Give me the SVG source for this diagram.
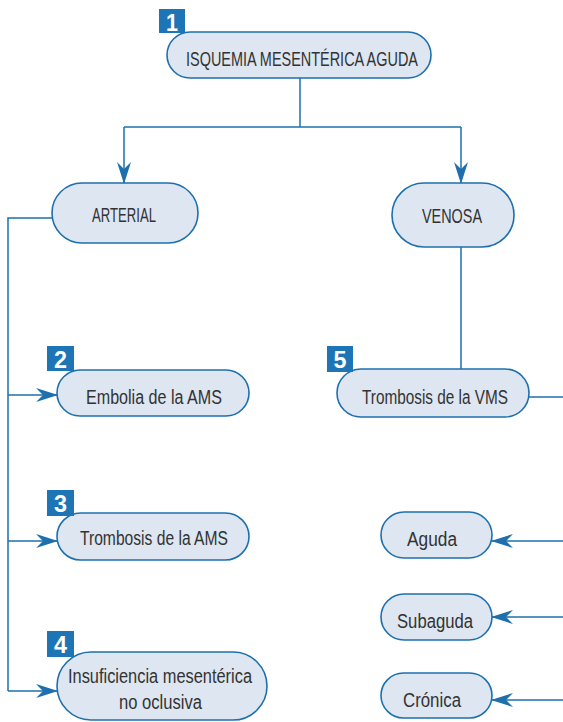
<svg xmlns="http://www.w3.org/2000/svg" width="563" height="722" viewBox="0 0 563 722">
<defs>
<style>
.node rect.box{fill:#dde6f1;stroke:#1d70ad;stroke-width:1.6}
.node text{font-family:"Liberation Sans",Arial,sans-serif;font-size:20px;fill:#333;text-anchor:middle}
.badge rect{fill:#1d75b6}
.badge text{font-family:"Liberation Sans",Arial,sans-serif;font-size:24px;font-weight:bold;fill:#fff;text-anchor:middle}
.conn{fill:none;stroke:#1d70ad;stroke-width:1.5}
</style>
<marker id="arr" viewBox="0 0 22 14" refX="21" refY="7" markerWidth="22" markerHeight="14" markerUnits="userSpaceOnUse" orient="auto">
<path d="M0,0 L22,7 L0,14 L7,7 Z" fill="#1d70ad"/>
</marker>
</defs>
<g id="connectors">
<path class="conn" d="M300,78 V127"/>
<path class="conn" d="M124,127 H461"/>
<path class="conn" d="M124,127 V183" marker-end="url(#arr)"/>
<path class="conn" d="M461,127 V183" marker-end="url(#arr)"/>
<path class="conn" d="M52,218 H8 V691"/>
<path class="conn" d="M8,395 H57" marker-end="url(#arr)"/>
<path class="conn" d="M8,541 H57" marker-end="url(#arr)"/>
<path class="conn" d="M8,691 H57" marker-end="url(#arr)"/>
<path class="conn" d="M461,247 V369"/>
<path class="conn" d="M529,397 H563"/>
<path class="conn" d="M563,541 H492" marker-end="url(#arr)"/>
<path class="conn" d="M563,617 H492" marker-end="url(#arr)"/>
<path class="conn" d="M563,700 H492" marker-end="url(#arr)"/>
</g>
<g id="n1" class="node">
<rect class="box" x="167" y="32" width="264" height="46" rx="23"/>
<text x="302" y="66" textLength="232" lengthAdjust="spacingAndGlyphs">ISQUEMIA MESENTÉRICA AGUDA</text>
<g class="badge"><rect x="159" y="9" width="26" height="24"/><text x="172" y="31" textLength="12" lengthAdjust="spacingAndGlyphs">1</text></g>
</g>
<g id="arterial" class="node">
<rect class="box" x="52" y="183" width="146" height="60" rx="30"/>
<text x="124" y="222" textLength="64" lengthAdjust="spacingAndGlyphs">ARTERIAL</text>
</g>
<g id="venosa" class="node">
<rect class="box" x="392" y="183" width="122" height="64" rx="32"/>
<text x="452" y="223" textLength="60" lengthAdjust="spacingAndGlyphs">VENOSA</text>
</g>
<g id="n2" class="node">
<rect class="box" x="57" y="370" width="192" height="46" rx="23"/>
<text x="154" y="404" textLength="136" lengthAdjust="spacingAndGlyphs">Embolia de la AMS</text>
<g class="badge"><rect x="47" y="346" width="27" height="25"/><text x="60.5" y="368" textLength="13" lengthAdjust="spacingAndGlyphs">2</text></g>
</g>
<g id="n3" class="node">
<rect class="box" x="57" y="513" width="192" height="47" rx="23.5"/>
<text x="154" y="545" textLength="148" lengthAdjust="spacingAndGlyphs">Trombosis de la AMS</text>
<g class="badge"><rect x="47" y="490" width="27" height="26"/><text x="60.5" y="512" textLength="13" lengthAdjust="spacingAndGlyphs">3</text></g>
</g>
<g id="n4" class="node">
<rect class="box" x="57" y="652" width="210" height="68" rx="34"/>
<text x="160" y="683" textLength="184" lengthAdjust="spacingAndGlyphs">Insuficiencia mesentérica</text>
<text x="160.5" y="709" textLength="83" lengthAdjust="spacingAndGlyphs">no oclusiva</text>
<g class="badge"><rect x="47" y="631" width="27" height="26"/><text x="60.5" y="653" textLength="13" lengthAdjust="spacingAndGlyphs">4</text></g>
</g>
<g id="n5" class="node">
<rect class="box" x="337" y="369" width="192" height="48" rx="24"/>
<text x="435" y="404" textLength="146" lengthAdjust="spacingAndGlyphs">Trombosis de la VMS</text>
<g class="badge"><rect x="327" y="346" width="26" height="26"/><text x="340" y="368" textLength="13" lengthAdjust="spacingAndGlyphs">5</text></g>
</g>
<g id="aguda" class="node">
<rect class="box" x="381" y="512" width="111" height="46" rx="23"/>
<text x="432" y="546" textLength="50" lengthAdjust="spacingAndGlyphs">Aguda</text>
</g>
<g id="subaguda" class="node">
<rect class="box" x="381" y="594" width="111" height="46" rx="23"/>
<text x="435" y="628" textLength="76" lengthAdjust="spacingAndGlyphs">Subaguda</text>
</g>
<g id="cronica" class="node">
<rect class="box" x="381" y="673" width="111" height="45" rx="22.5"/>
<text x="432" y="707" textLength="58" lengthAdjust="spacingAndGlyphs">Crónica</text>
</g>
</svg>
